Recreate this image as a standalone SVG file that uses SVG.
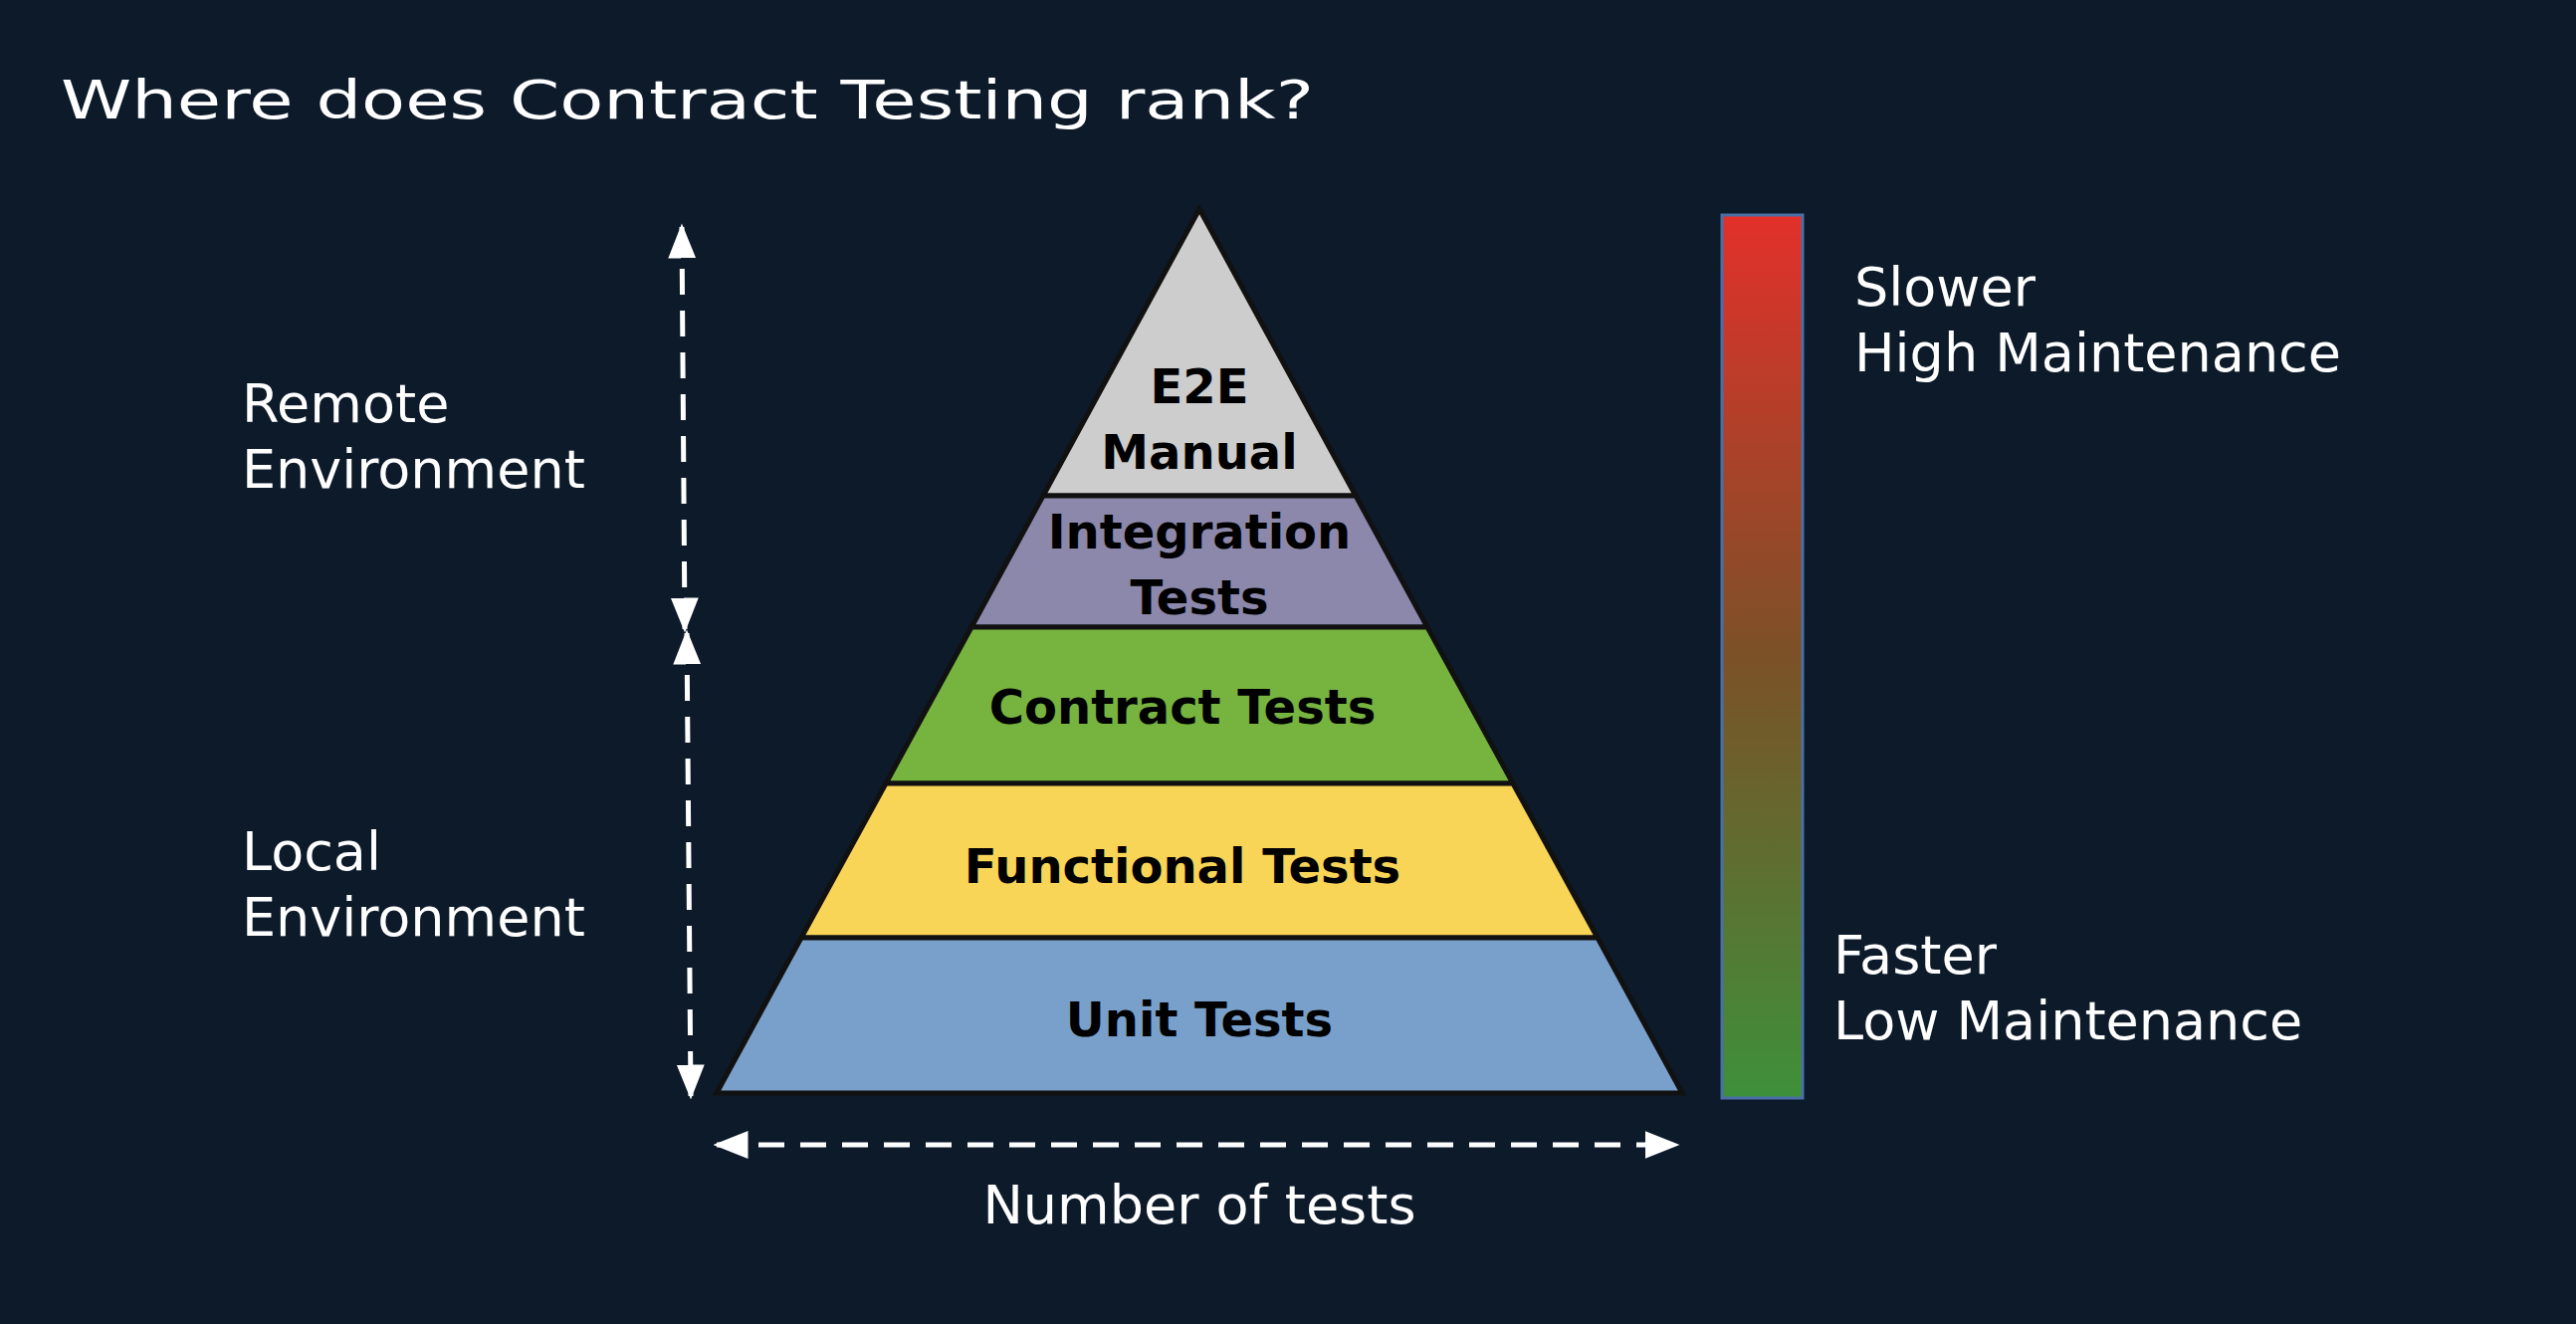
<svg xmlns="http://www.w3.org/2000/svg" width="2588" height="1330" viewBox="0 0 2588 1330">
<style>
.t{font-family:"DejaVu Sans","Liberation Sans",sans-serif;fill:#fff;font-size:54px}
.b{font-family:"DejaVu Sans","Liberation Sans",sans-serif;font-weight:bold;font-size:48px;fill:#000;text-anchor:middle}
.ar{stroke:#fff;stroke-width:5;stroke-dasharray:26 16;fill:none}
.ly{stroke:#111;stroke-width:5}
</style>
<defs>
<marker id="ah" viewBox="0 0 10 10" refX="9" refY="5" markerWidth="7" markerHeight="7" orient="auto-start-reverse" markerUnits="strokeWidth"><path d="M0,1 L10,5 L0,9 z" fill="#fff"/></marker>
<linearGradient id="g" x1="0" y1="0" x2="0" y2="1"><stop offset="0" stop-color="#e2302a"/><stop offset="0.5" stop-color="#7b5128"/><stop offset="1" stop-color="#3e903a"/></linearGradient>
</defs>
<rect width="2588" height="1330" fill="#0c1a2a"/>
<text class="t" x="61" y="119" font-size="68" textLength="1259" lengthAdjust="spacingAndGlyphs">Where does Contract Testing rank?</text>
<g id="e2e"><polygon class="ly" points="1205,210 1362,498 1048,498" fill="#cdcdcd"/><text class="b" x="1205" y="405">E2E</text><text class="b" x="1205" y="471">Manual</text></g>
<g id="integration"><polygon class="ly" points="1048,498 1362,498 1434,630 976,630" fill="#8c88ab"/><text class="b" x="1205" y="551">Integration</text><text class="b" x="1205" y="617">Tests</text></g>
<g id="contract"><polygon class="ly" points="976,630 1434,630 1520,787 890,787" fill="#77b43f"/><text class="b" x="1188" y="727">Contract Tests</text></g>
<g id="functional"><polygon class="ly" points="890,787 1520,787 1605,942 805,942" fill="#f8d457"/><text class="b" x="1188" y="887">Functional Tests</text></g>
<g id="unit"><polygon class="ly" points="805,942 1605,942 1690,1098 720,1098" fill="#79a0cb"/><text class="b" x="1205" y="1041">Unit Tests</text></g>
<g id="bar"><rect x="1730" y="216" width="81" height="887" fill="url(#g)" stroke="#4a6fa5" stroke-width="3"/></g>
<g id="labels">
<text class="t" x="243" y="424">Remote</text><text class="t" x="243" y="490">Environment</text>
<text class="t" x="243" y="874">Local</text><text class="t" x="243" y="940">Environment</text>
<text class="t" x="1863" y="307">Slower</text><text class="t" x="1863" y="373">High Maintenance</text>
<text class="t" x="1842" y="978">Faster</text><text class="t" x="1842" y="1044">Low Maintenance</text>
<text class="t" x="1205" y="1229" text-anchor="middle">Number of tests</text>
</g>
<g id="connectors">
<line class="ar" x1="685" y1="228" x2="688" y2="632" marker-start="url(#ah)" marker-end="url(#ah)"/>
<line class="ar" x1="690" y1="636" x2="694" y2="1101" marker-start="url(#ah)" marker-end="url(#ah)"/>
<line class="ar" x1="720" y1="1150" x2="1684" y2="1150" marker-start="url(#ah)" marker-end="url(#ah)"/>
</g>
</svg>
